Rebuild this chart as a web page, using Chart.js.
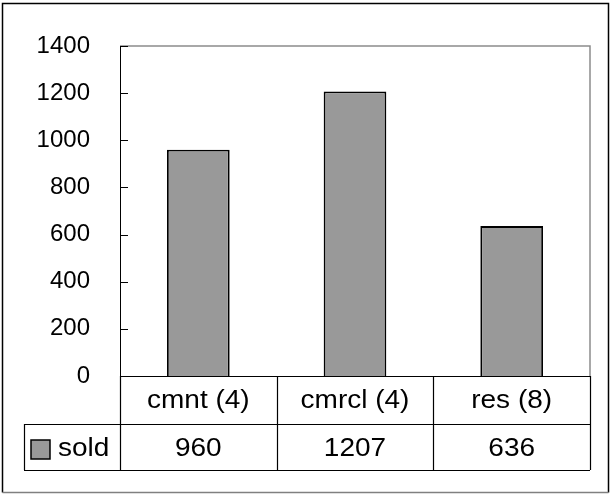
<!DOCTYPE html>
<html>
<head>
<meta charset="utf-8">
<script src="https://cdn.jsdelivr.net/npm/chart.js@4"></script>
<style>
    html, body { margin: 0; padding: 0; background: #fff; }
    #wrap { width: 612px; height: 494px; position: relative; }
</style>
</head>
<body>
<div id="wrap"><canvas id="soldChart"></canvas></div>
<script>
// values
const categories = ['cmnt (4)', 'cmrcl (4)', 'res (8)'];
const soldValues = [960, 1207, 636];
const seriesName = 'sold';
const yMin = 0;
const yMax = 1400;
const yStep = 200;

const FONT = '"Liberation Sans", Arial, sans-serif';
const BAR_FILL = '#999999';
const STRETCH = 1.12; // the reference text is a bit wider than plain Arial

// text helper, stretched horizontally around its anchor
function wideText(ctx, str, x, y, align) {
    ctx.save();
    ctx.translate(x, y);
    ctx.scale(STRETCH, 1);
    ctx.textAlign = align;
    ctx.fillText(str, 0, 0);
    ctx.restore();
}

// draws the Excel style frame, inward ticks and the data table under the plot
const excelTable = {
    id: 'excelTable',
    afterDraw(chart) {
        const { ctx, chartArea: a, scales: { x, y } } = chart;
        ctx.save();

        // outer chart frame
        ctx.lineWidth = 1.5;
        ctx.strokeStyle = '#000';
        ctx.beginPath();
        ctx.moveTo(2.5, 492.5);
        ctx.lineTo(2.5, 3.5);
        ctx.lineTo(608.5, 3.5);
        ctx.lineTo(608.5, 492.5);
        ctx.stroke();
        ctx.strokeStyle = '#808080';
        ctx.beginPath();
        ctx.moveTo(2.5, 492.5);
        ctx.lineTo(608.5, 492.5);
        ctx.stroke();

        // plot area border: gray top/right, black axis left/bottom
        ctx.lineWidth = 1.5;
        ctx.strokeStyle = '#8c8c8c';
        ctx.beginPath();
        ctx.moveTo(a.left, a.top);
        ctx.lineTo(a.right, a.top);
        ctx.lineTo(a.right, a.bottom);
        ctx.stroke();

        ctx.strokeStyle = '#000';
        ctx.lineWidth = 1;
        ctx.beginPath();
        ctx.moveTo(a.left + 0.5, a.top);
        ctx.lineTo(a.left + 0.5, a.bottom);
        ctx.stroke();

        // inward tick marks on the value axis
        y.ticks.forEach(t => {
            const py = Math.round(y.getPixelForValue(t.value)) + 0.5;
            ctx.beginPath();
            ctx.moveTo(a.left, py);
            ctx.lineTo(a.left + 8, py);
            ctx.stroke();
        });

        // table geometry from the category scale
        const half = (x.getPixelForValue(1) - x.getPixelForValue(0)) / 2;
        const edges = categories.map((c, i) => x.getPixelForValue(i) - half);
        edges.push(x.getPixelForValue(categories.length - 1) + half);
        const row1Top = a.bottom;
        const row1Bot = a.bottom + 48;
        const row2Bot = row1Bot + 46;
        const tableLeft = 24;

        ctx.lineWidth = 1.2;
        ctx.beginPath();
        ctx.moveTo(a.left, row1Top + 0.5);
        ctx.lineTo(a.right, row1Top + 0.5);
        ctx.moveTo(tableLeft, row1Bot + 0.5);
        ctx.lineTo(a.right, row1Bot + 0.5);
        ctx.moveTo(tableLeft, row2Bot + 0.5);
        ctx.lineTo(a.right, row2Bot + 0.5);
        ctx.moveTo(tableLeft + 0.5, row1Bot);
        ctx.lineTo(tableLeft + 0.5, row2Bot);
        edges.forEach(ex => {
            const px = Math.round(ex) + 0.5;
            ctx.moveTo(px, row1Top);
            ctx.lineTo(px, row2Bot);
        });
        ctx.stroke();

        // category and value rows
        ctx.fillStyle = '#000';
        ctx.font = '25px ' + FONT;
        ctx.textBaseline = 'middle';
        categories.forEach((c, i) => {
            wideText(ctx, c, x.getPixelForValue(i), (row1Top + row1Bot) / 2 + 1, 'center');
            wideText(ctx, String(soldValues[i]), x.getPixelForValue(i), (row1Bot + row2Bot) / 2 + 2, 'center');
        });

        // legend key + series name
        const keyY = (row1Bot + row2Bot) / 2 + 2;
        ctx.fillStyle = BAR_FILL;
        ctx.fillRect(31, keyY - 9, 19, 19);
        ctx.lineWidth = 1.5;
        ctx.strokeRect(31, keyY - 9, 19, 19);
        ctx.fillStyle = '#000';
        wideText(ctx, seriesName, 58, keyY, 'left');

        ctx.restore();
    }
};

const ctx = document.getElementById('soldChart').getContext('2d');
new Chart(ctx, {
    type: 'bar',
    data: {
        labels: categories,
        datasets: [{
            label: seriesName,
            data: soldValues,
            backgroundColor: BAR_FILL,
            borderColor: '#000',
            borderWidth: 1.8,
            barPercentage: 0.4,
            categoryPercentage: 1
        }]
    },
    options: {
        responsive: true,
        maintainAspectRatio: false,
        animation: false,
        layout: { padding: { left: 0, top: 46, right: 22, bottom: 118 } },
        plugins: {
            legend: { display: false },
            tooltip: { enabled: false }
        },
        scales: {
            x: { display: false },
            y: {
                min: yMin,
                max: yMax,
                afterFit(scale) { scale.width = 120; },
                grid: { display: false, drawTicks: false },
                border: { display: false },
                ticks: {
                    stepSize: yStep,
                    padding: 30,
                    color: '#000',
                    font: { family: FONT, size: 24 },
                    callback: v => String(v)
                }
            }
        }
    },
    plugins: [excelTable]
});
</script>
</body>
</html>
